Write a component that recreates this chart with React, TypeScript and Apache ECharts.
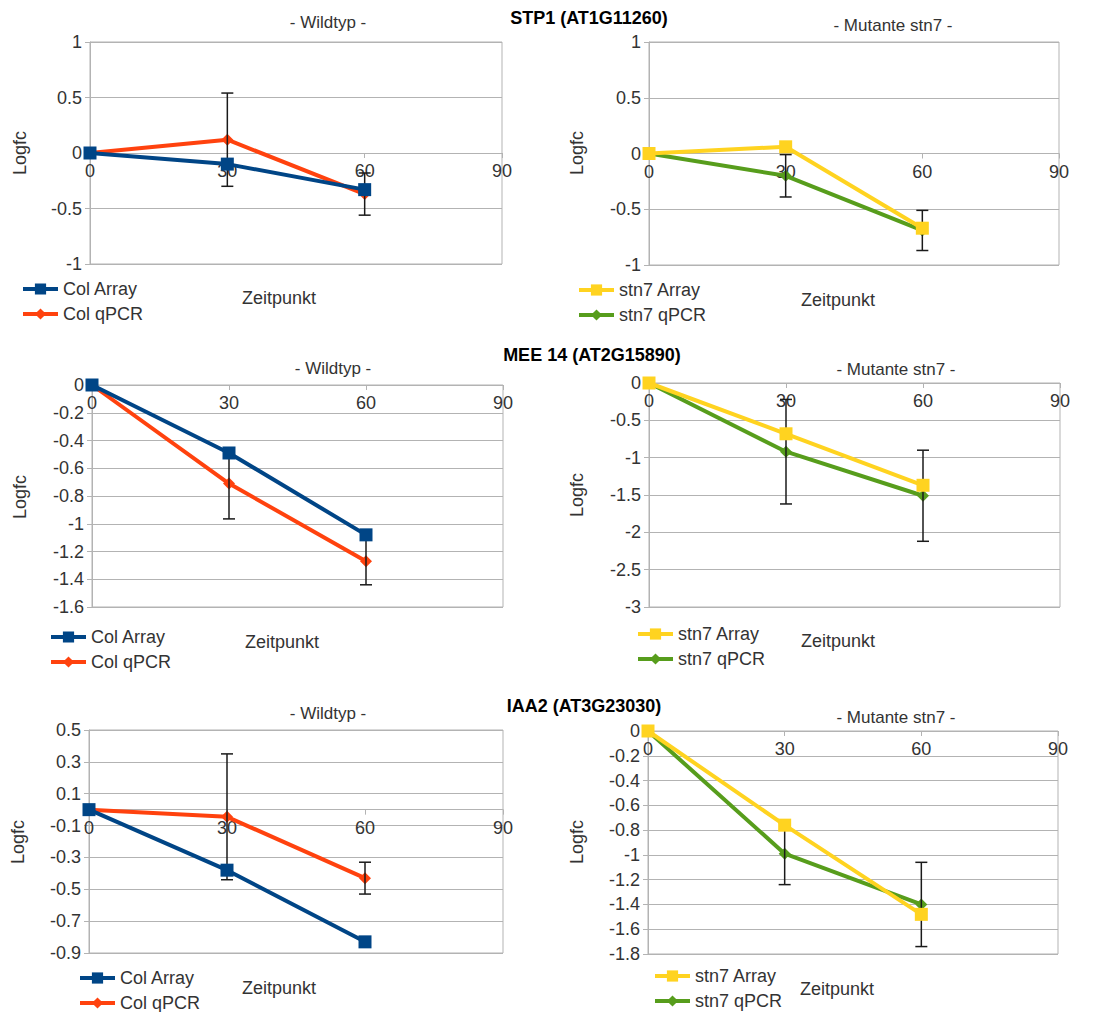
import React, { useEffect, useRef } from "react";
import * as echarts from "echarts";

const timepoints = [0, 30, 60];
const xTicks = [0, 30, 60, 90];

// STP1 (AT1G11260)
const stp1ColArray = [0, -0.1, -0.33];
const stp1ColQpcr = [0, 0.12, -0.37];
const stp1ColQpcrErr = [0, 0.42, 0.19];
const stp1Stn7Array = [0, 0.06, -0.67];
const stp1Stn7Qpcr = [0, -0.2, -0.69];
const stp1Stn7QpcrErr = [0, 0.19, 0.18];

// MEE 14 (AT2G15890)
const mee14ColArray = [0, -0.49, -1.08];
const mee14ColQpcr = [0, -0.71, -1.27];
const mee14ColQpcrErr = [0, 0.255, 0.17];
const mee14Stn7Array = [0, -0.68, -1.37];
const mee14Stn7Qpcr = [0, -0.92, -1.51];
const mee14Stn7QpcrErr = [0, 0.7, 0.61];

// IAA2 (AT3G23030)
const iaa2ColArray = [0, -0.38, -0.83];
const iaa2ColQpcr = [0, -0.045, -0.43];
const iaa2ColQpcrErr = [0, 0.395, 0.1];
const iaa2Stn7Array = [0, -0.76, -1.48];
const iaa2Stn7Qpcr = [0, -0.99, -1.4];
const iaa2Stn7QpcrErr = [0, 0.25, 0.34];

const geneTitles = ["STP1 (AT1G11260)", "MEE 14 (AT2G15890)", "IAA2 (AT3G23030)"];
const panelTitles = ["- Wildtyp -", "- Mutante stn7 -"];
const colNames = ["Col Array", "Col qPCR"];
const stn7Names = ["stn7 Array", "stn7 qPCR"];
const yRanges = [
  [-1, 1, 0.5],
  [-1, 1, 0.5],
  [-1.6, 0, 0.2],
  [-3, 0, 0.5],
  [-0.9, 0.5, 0.2],
  [-1.8, 0, 0.2],
];

const FONT = '"Liberation Sans", Arial, sans-serif';
const GREY = "#b3b3b3";
const TXT = "#333333";

export default function App() {
  const ref = useRef<HTMLDivElement>(null);

  useEffect(() => {
    if (!ref.current) return;
    const chart = echarts.init(ref.current, undefined, { renderer: "svg" });

    const panels = [
      { arr: stp1ColArray, q: stp1ColQpcr, e: stp1ColQpcrErr, names: colNames, colors: ["#004586", "#ff420e"] },
      { arr: stp1Stn7Array, q: stp1Stn7Qpcr, e: stp1Stn7QpcrErr, names: stn7Names, colors: ["#ffd320", "#579d1c"] },
      { arr: mee14ColArray, q: mee14ColQpcr, e: mee14ColQpcrErr, names: colNames, colors: ["#004586", "#ff420e"] },
      { arr: mee14Stn7Array, q: mee14Stn7Qpcr, e: mee14Stn7QpcrErr, names: stn7Names, colors: ["#ffd320", "#579d1c"] },
      { arr: iaa2ColArray, q: iaa2ColQpcr, e: iaa2ColQpcrErr, names: colNames, colors: ["#004586", "#ff420e"] },
      { arr: iaa2Stn7Array, q: iaa2Stn7Qpcr, e: iaa2Stn7QpcrErr, names: stn7Names, colors: ["#ffd320", "#579d1c"] },
    ];

    const grids = [
      { left: 90, top: 42, width: 412, height: 222 },
      { left: 649, top: 42, width: 410, height: 223 },
      { left: 92, top: 385, width: 411, height: 222 },
      { left: 649, top: 383, width: 411, height: 224 },
      { left: 89, top: 730, width: 414, height: 223 },
      { left: 648, top: 731, width: 410, height: 223 },
    ];

    const legendPos = [
      [21, 280],
      [577, 281],
      [49, 628],
      [636, 625],
      [78, 969],
      [653, 967],
    ];

    const subtitlePos = [
      [328, 22],
      [893, 25],
      [333, 368],
      [896, 369],
      [328, 713],
      [896, 717],
    ];
    const logfcPos = [
      [20, 153],
      [577, 153],
      [20, 497],
      [577, 495],
      [18, 842],
      [577, 842],
    ];
    const zeitPos = [
      [279, 298],
      [838, 300],
      [282, 642],
      [838, 641],
      [279, 988],
      [837, 989],
    ];
    const titlePos = [
      [589, 18],
      [592, 355],
      [584, 706],
    ];

    const fmt = (v: number) => String(parseFloat(Number(v).toFixed(2)));

    // x axis drawn at y = 0: shift it up from the grid bottom by the zero position
    const xAxis = grids.map((g, i) => {
      const [mn, mx] = yRanges[i];
      const zeroOffset = -(g.height * (0 - mn)) / (mx - mn);
      return {
        type: "value",
        gridIndex: i,
        position: "bottom",
        offset: zeroOffset,
        min: xTicks[0],
        max: xTicks[xTicks.length - 1],
        interval: 30,
        axisLine: { show: true, onZero: false, lineStyle: { color: GREY, width: 1 } },
        axisTick: { show: true, length: 5, lineStyle: { color: GREY } },
        axisLabel: { fontSize: 18, color: TXT, fontFamily: FONT, margin: 9, formatter: fmt },
        splitLine: { show: false },
      };
    });

    const yAxis = grids.map((_, i) => ({
      type: "value",
      gridIndex: i,
      min: yRanges[i][0],
      max: yRanges[i][1],
      interval: yRanges[i][2],
      axisLine: { show: true, onZero: false, lineStyle: { color: GREY, width: 1 } },
      axisTick: { show: true, length: 5, lineStyle: { color: GREY } },
      axisLabel: { fontSize: 18, color: TXT, fontFamily: FONT, margin: 8, formatter: fmt },
      splitLine: { show: true, lineStyle: { color: GREY, width: 1 } },
    }));

    const series: any[] = [];
    panels.forEach((p, i) => {
      series.push({
        type: "line",
        name: p.names[1],
        xAxisIndex: i,
        yAxisIndex: i,
        data: timepoints.map((t, k) => [t, p.q[k]]),
        symbol: "diamond",
        symbolSize: 12,
        lineStyle: { width: 4, color: p.colors[1] },
        itemStyle: { color: p.colors[1] },
        z: 2,
      });
      series.push({
        type: "custom",
        name: p.names[1] + " err",
        xAxisIndex: i,
        yAxisIndex: i,
        z: 3,
        clip: false,
        data: timepoints
          .map((t, k) => [t, p.q[k] - p.e[k], p.q[k] + p.e[k]])
          .filter((_, k) => p.e[k] > 0),
        encode: { x: 0, y: [1, 2] },
        renderItem: (params: any, api: any) => {
          const x = api.value(0);
          const lo = api.coord([x, api.value(1)]);
          const hi = api.coord([x, api.value(2)]);
          const hw = 6;
          const st = { stroke: "#1a1a1a", lineWidth: 1.5 };
          return {
            type: "group",
            children: [
              { type: "line", shape: { x1: lo[0], y1: lo[1], x2: hi[0], y2: hi[1] }, style: st },
              { type: "line", shape: { x1: lo[0] - hw, y1: lo[1], x2: lo[0] + hw, y2: lo[1] }, style: st },
              { type: "line", shape: { x1: hi[0] - hw, y1: hi[1], x2: hi[0] + hw, y2: hi[1] }, style: st },
            ],
          };
        },
      });
      series.push({
        type: "line",
        name: p.names[0],
        xAxisIndex: i,
        yAxisIndex: i,
        data: timepoints.map((t, k) => [t, p.arr[k]]),
        symbol: "rect",
        symbolSize: 13,
        lineStyle: { width: 4, color: p.colors[0] },
        itemStyle: { color: p.colors[0] },
        z: 4,
      });
    });

    const legend = panels.map((p, i) => ({
      orient: "vertical",
      left: legendPos[i][0],
      top: legendPos[i][1],
      padding: 0,
      itemWidth: 35,
      itemHeight: 14,
      itemGap: 7,
      data: [p.names[0], p.names[1]],
      lineStyle: { width: 4 },
      textStyle: { fontSize: 18, color: TXT, fontFamily: FONT, lineHeight: 18, padding: [0, 0, 0, 0] },
      selectedMode: false,
    }));

    const graphic: any[] = [];
    geneTitles.forEach((t, i) => {
      graphic.push({
        type: "text",
        x: titlePos[i][0],
        y: titlePos[i][1],
        style: {
          text: t,
          fontSize: 18,
          fontWeight: "bold",
          fontFamily: FONT,
          fill: "#000",
          textAlign: "center",
          textVerticalAlign: "middle",
        },
      });
    });
    for (let i = 0; i < 6; i++) {
      graphic.push({
        type: "text",
        x: subtitlePos[i][0],
        y: subtitlePos[i][1],
        style: {
          text: panelTitles[i % 2],
          fontSize: 17,
          fontFamily: FONT,
          fill: TXT,
          textAlign: "center",
          textVerticalAlign: "middle",
        },
      });
      graphic.push({
        type: "text",
        x: logfcPos[i][0],
        y: logfcPos[i][1],
        rotation: Math.PI / 2,
        style: {
          text: "Logfc",
          fontSize: 18,
          fontFamily: FONT,
          fill: TXT,
          textAlign: "center",
          textVerticalAlign: "middle",
        },
      });
      graphic.push({
        type: "text",
        x: zeitPos[i][0],
        y: zeitPos[i][1],
        style: {
          text: "Zeitpunkt",
          fontSize: 18,
          fontFamily: FONT,
          fill: TXT,
          textAlign: "center",
          textVerticalAlign: "middle",
        },
      });
    }

    chart.setOption({
      animation: false,
      backgroundColor: "#ffffff",
      textStyle: { fontFamily: FONT },
      grid: grids.map((g) => ({ ...g, show: true, borderColor: GREY, borderWidth: 1, backgroundColor: "transparent" })),
      xAxis,
      yAxis,
      legend,
      series,
      graphic,
    });

    return () => chart.dispose();
  }, []);

  return (
    <div
      ref={ref}
      style={{ position: "fixed", left: 0, top: 0, width: 1093, height: 1012, background: "#fff" }}
    />
  );
}
